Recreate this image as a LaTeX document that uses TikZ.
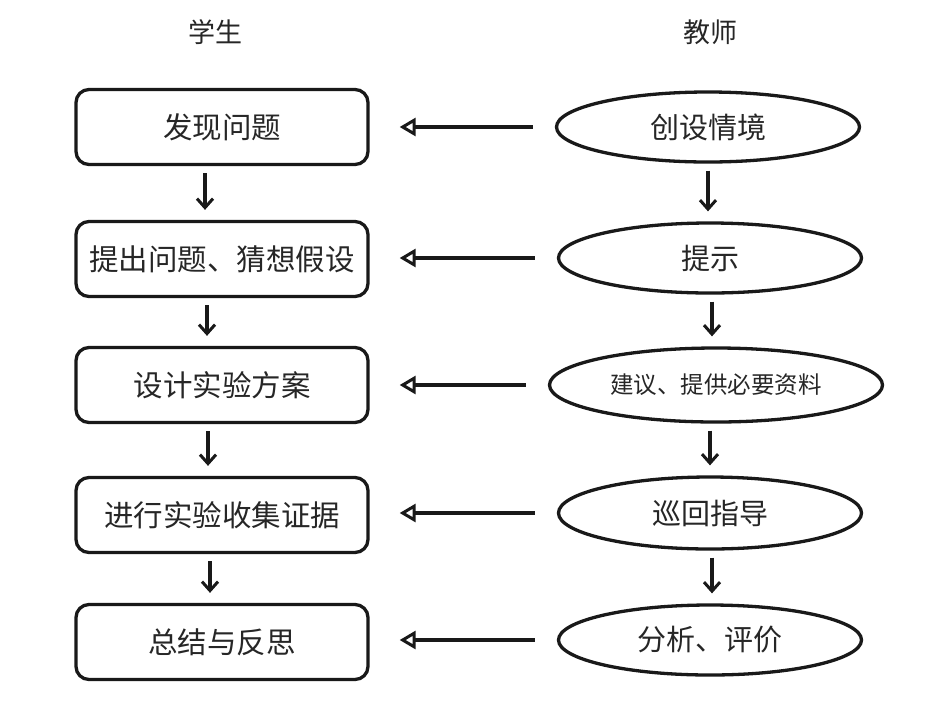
\documentclass[tikz,border=0pt]{standalone}
\usepackage{fontspec}
\setmainfont{Noto Sans CJK SC}
\usetikzlibrary{shapes.geometric,arrows.meta}
\begin{document}
\begin{tikzpicture}[x=1pt,y=-1pt,
  stubox/.style={draw=black!90,line width=3.3pt,rounded corners=13pt,minimum width=292pt,minimum height=75pt,inner sep=0pt,font=\fontsize{29.5}{32}\selectfont,text=black!85},
  teabox/.style={draw=black!90,line width=3.3pt,ellipse,minimum width=303pt,minimum height=70pt,inner sep=0pt,font=\fontsize{29}{32}\selectfont,text=black!85},
  title/.style={font=\fontsize{27}{30}\selectfont,text=black!85},
  harrow/.style={line width=4pt,draw=black!90,-{Triangle[open,length=16pt,width=18pt,line width=3pt]},shorten <=22pt,shorten >=30pt},
  varrow/.style={line width=3.8pt,draw=black!90,-{Straight Barb[length=9pt,width=16pt,line width=3pt]},shorten <=7pt,shorten >=10pt}]
\useasboundingbox (0,0) rectangle (939,710);
\node[title] (ts) at (215,32) {学生};
\node[title] (tt) at (710,32) {教师};
\node[stubox] (s1) at (222,127) {发现问题};
\node[stubox] (s2) at (222,259) {提出问题、猜想假设};
\node[stubox] (s3) at (222,385) {设计实验方案};
\node[stubox] (s4) at (222,515) {进行实验收集证据};
\node[stubox] (s5) at (222,642) {总结与反思};
\node[teabox] (t1) at (708,127) {创设情境};
\node[teabox] (t2) at (710,258) {提示};
\node[teabox,minimum width=333pt,minimum height=74pt,font=\fontsize{23.5}{26}\selectfont] (t3) at (716,385) {建议、提供必要资料};
\node[teabox,minimum height=72pt] (t4) at (710,513) {巡回指导};
\node[teabox] (t5) at (710,640) {分析、评价};
\foreach \i in {1,...,5}{\draw[harrow] (t\i.west) -- (t\i.west -| s\i.east);}
\draw[varrow] (s1.south -| 205,0) -- (s2.north -| 205,0);
\draw[varrow] (s2.south -| 207,0) -- (s3.north -| 207,0);
\draw[varrow] (s3.south -| 208,0) -- (s4.north -| 208,0);
\draw[varrow] (s4.south -| 210,0) -- (s5.north -| 210,0);
\draw[varrow] (t1.south -| 708,0) -- (t2.north -| 708,0);
\draw[varrow] (t2.south -| 712,0) -- (t3.north -| 712,0);
\draw[varrow] (t3.south -| 710,0) -- (t4.north -| 710,0);
\draw[varrow] (t4.south -| 712,0) -- (t5.north -| 712,0);
\end{tikzpicture}
\end{document}
